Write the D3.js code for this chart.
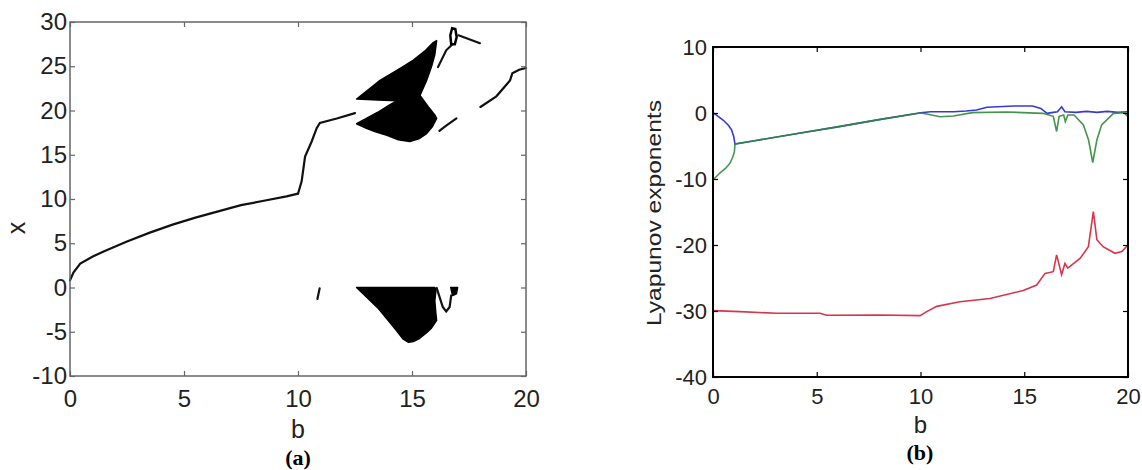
<!DOCTYPE html>
<html>
<head>
<meta charset="utf-8">
<script src="https://cdn.jsdelivr.net/npm/d3@7"></script>
<style>
  body { margin: 0; background: #fff; }
  svg { display: block; }
  .tick text { font-family: "Liberation Sans", Arial, sans-serif; fill: #222; }
</style>
</head>
<body>
<div id="chart"></div>
<script>
// ---- data ----
var bTicks = [0, 5, 10, 15, 20];
var xTicks = [-10, -5, 0, 5, 10, 15, 20, 25, 30];
var lyapTicks = [-40, -30, -20, -10, 0, 10];

// bifurcation diagram (a): [b, x]
var branchLow = [[0,0.8],[0.15,1.7],[0.45,2.7],[1,3.5],[1.5,4.1],[2.5,5.2],[3.5,6.2],[4.5,7.1],[5.5,7.9],[6.5,8.6],[7.5,9.3],[8.5,9.8],[9.5,10.3],[10,10.6]];
var branchJump = [[10,10.6],[10.16,12.0],[10.31,14.8],[10.6,16.5],[10.82,18.0],[10.96,18.6],[11.7,19.1],[12.5,19.7]];
var branchMid = [[16.2,17.7],[16.5,18.3],[16.95,19.1]];
var branchHigh = [[18.0,20.4],[18.7,21.6],[19.3,23.4],[19.4,24.2],[19.7,24.6],[20,24.8]];
var branchThin = [[16.14,24.9],[16.5,26.8],[16.74,27.4]];
var branchTail = [[17.04,28.5],[17.98,27.6]];
var loopTop = [[16.72,27.5],[16.68,28.5],[16.76,29.3],[16.9,29.2],[16.96,28.3],[16.88,27.5]];
var stubLow = [[10.95,-0.1],[10.85,-1.3]];
var hookLow = [[16.08,-0.05],[16.2,-1.0],[16.35,-2.2],[16.5,-2.7],[16.65,-2.2],[16.72,-0.9]];
var chaosUpper = [[12.57,21.3],[13.6,23.4],[14.5,24.8],[15.06,25.7],[15.6,26.8],[15.9,27.6],[16.08,27.9],
  [16.0,26.3],[15.86,25.0],[15.64,23.4],[15.35,21.7],[15.72,20.4],[16.0,19.5],[16.08,19.1],
  [15.9,18.2],[15.64,17.4],[15.3,16.8],[14.9,16.5],[14.4,16.7],[13.9,17.2],[13.4,17.6],[13.0,18.0],[12.57,18.5],
  [13.0,19.1],[13.5,19.8],[14.0,20.6],[14.35,21.1],[13.5,21.2]];
var chaosLower = [[12.57,0],[16.0,0],[16.05,-0.3],[16.0,-1.5],[16.05,-3.0],[16.08,-3.7],[15.85,-4.6],[15.64,-5.1],
  [15.3,-5.8],[15.06,-6.1],[14.85,-6.2],[14.6,-5.8],[14.3,-4.8],[13.5,-2.3]];
var blobLow = [[16.7,0],[17.0,0],[16.95,-0.7],[16.78,-0.9]];

// Lyapunov exponents (b): [b, value]
var lambda1 = [[0,0.05],[0.2,-0.4],[0.5,-1.1],[0.75,-1.9],[0.9,-2.6],[1.0,-3.6],[1.06,-4.7],[2,-4.2],[4,-3.15],[6,-2.1],[8,-1.0],[10,0.05],
  [10.5,0.2],[11.6,0.2],[12.2,0.3],[12.7,0.45],[13.2,0.86],[14.5,1.06],[15.4,1.06],[15.8,0.7],[16.1,-0.05],[16.4,0.1],[16.6,0.2],[16.8,0.95],
  [16.96,0.2],[17.5,0.1],[18,0.25],[18.5,0.1],[19,0.25],[19.5,0.1],[20,0.2]];
var lambda2 = [[0,-10.15],[0.33,-9.1],[0.6,-8.4],[0.82,-7.6],[0.95,-6.7],[1.03,-5.9],[1.06,-4.7],[2,-4.2],[4,-3.15],[6,-2.1],[8,-1.0],[10,0],
  [10.3,-0.15],[10.94,-0.56],[11.58,-0.45],[12.5,0.05],[14.15,0.15],[15.9,-0.05],[16.4,-0.5],[16.56,-2.8],[16.68,-0.5],[16.9,-0.3],[16.98,-1.3],
  [17.1,-0.3],[17.4,-0.3],[17.85,-1.8],[18.1,-4.1],[18.3,-7.5],[18.5,-4.1],[18.73,-1.8],[19.3,-0.05],[19.8,0.05],[20,-0.56]];
var lambda3 = [[0,-29.95],[1.3,-30.1],[3.07,-30.35],[5.16,-30.35],[5.48,-30.65],[8,-30.6],[9.98,-30.7],[10.3,-30.1],[10.78,-29.3],[11.9,-28.6],
  [13.35,-28.1],[14.95,-26.9],[15.6,-26.06],[16.0,-24.3],[16.4,-24.04],[16.56,-21.5],[16.8,-24.5],[16.96,-22.8],[17.1,-23.5],[17.7,-22.0],
  [18.09,-20.26],[18.33,-14.95],[18.5,-19.2],[18.8,-20.26],[19.37,-21.26],[19.7,-21.0],[20,-20.0]];

var width = 1142, height = 470;
var svg = d3.select("#chart").append("svg").attr("width", width).attr("height", height);

var plain = function(d) { return String(d); };   // hyphen minus, like the original

function frame(g, x, y, opt) {
  var w = x.range()[1] - x.range()[0], h = y.range()[0] - y.range()[1];
  var t = opt.tick;
  var bottom = g.append("g").attr("transform", "translate(0," + h + ")")
    .call(d3.axisBottom(x).tickValues(bTicks).tickFormat(plain).tickSizeInner(-t).tickSizeOuter(0).tickPadding(opt.padX));
  var left = g.append("g")
    .call(d3.axisLeft(y).tickValues(opt.yTicks).tickFormat(plain).tickSizeInner(-t).tickSizeOuter(0).tickPadding(opt.padY));
  var top = g.append("g")
    .call(d3.axisTop(x).tickValues(bTicks).tickSizeInner(-t).tickSizeOuter(0).tickFormat(""));
  var right = g.append("g").attr("transform", "translate(" + w + ",0)")
    .call(d3.axisRight(y).tickValues(opt.yTicks).tickSizeInner(-t).tickSizeOuter(0).tickFormat(""));
  [bottom, left, top, right].forEach(function(a) {
    a.select(".domain").remove();
    a.selectAll("line").attr("stroke", opt.color).attr("stroke-width", 1.2);
    a.selectAll("text").style("font-size", opt.font + "px");
  });
  g.append("rect").attr("width", w).attr("height", h)
    .attr("fill", "none").attr("stroke", opt.color).attr("stroke-width", opt.sw);
}

// ---- panel (a) ----
var xa = d3.scaleLinear().domain([0, 20]).range([0, 456]);
var ya = d3.scaleLinear().domain([-10, 30]).range([354, 0]);
var ga = svg.append("g").attr("transform", "translate(70,22)");
var lineA = d3.line().x(function(d) { return xa(d[0]); }).y(function(d) { return ya(d[1]); });

[chaosUpper, chaosLower, blobLow].forEach(function(p) {
  ga.append("path").attr("d", lineA(p) + "Z").attr("fill", "#000").attr("stroke", "#000").attr("stroke-width", 1.5).attr("stroke-linejoin", "round");
});
[branchLow, branchJump, branchMid, branchHigh, branchThin, branchTail, stubLow, hookLow].forEach(function(p) {
  ga.append("path").attr("d", lineA(p)).attr("fill", "none").attr("stroke", "#111").attr("stroke-width", 2.2).attr("stroke-linecap", "round");
});
ga.append("path").attr("d", lineA(loopTop) + "Z").attr("fill", "none").attr("stroke", "#000").attr("stroke-width", 2.5);

frame(ga, xa, ya, { yTicks: xTicks, tick: 5, padX: 14, padY: 3, font: 24, color: "#666", sw: 1.5 });

ga.append("text").attr("transform", "translate(-45,206) rotate(-90)").attr("text-anchor", "middle")
  .style("font-family", "Liberation Sans, Arial, sans-serif").style("font-size", "25px").attr("fill", "#222").text("x");
ga.append("text").attr("x", 228).attr("y", 416).attr("text-anchor", "middle")
  .style("font-family", "Liberation Sans, Arial, sans-serif").style("font-size", "25px").attr("fill", "#222").text("b");
svg.append("text").attr("x", 298).attr("y", 465).attr("text-anchor", "middle")
  .style("font-family", "Liberation Serif, Times New Roman, serif").style("font-weight", "bold").style("font-size", "22px").text("(a)");

// ---- panel (b) ----
var xb = d3.scaleLinear().domain([0, 20]).range([0, 415]);
var yb = d3.scaleLinear().domain([-40, 10]).range([330, 0]);
var gb = svg.append("g").attr("transform", "translate(713,47)");
var lineB = d3.line().x(function(d) { return xb(d[0]); }).y(function(d) { return yb(d[1]); });

gb.append("path").attr("d", lineB(lambda3)).attr("fill", "none").attr("stroke", "#d8354a").attr("stroke-width", 1.6);
gb.append("path").attr("d", lineB(lambda1)).attr("fill", "none").attr("stroke", "#3838d8").attr("stroke-width", 1.6);
gb.append("path").attr("d", lineB(lambda2)).attr("fill", "none").attr("stroke", "#2f8a3a").attr("stroke-width", 1.6).attr("stroke-opacity", 0.9);

frame(gb, xb, yb, { yTicks: lyapTicks, tick: 5, padX: 11, padY: 6, font: 22, color: "#000", sw: 2 });

gb.append("text").attr("transform", "translate(-52,166) rotate(-90)").attr("text-anchor", "middle")
  .attr("textLength", 226).attr("lengthAdjust", "spacingAndGlyphs")
  .style("font-family", "Liberation Sans, Arial, sans-serif").style("font-size", "20px").attr("fill", "#222").text("Lyapunov exponents");
gb.append("text").attr("x", 207.5).attr("y", 386).attr("text-anchor", "middle")
  .style("font-family", "Liberation Sans, Arial, sans-serif").style("font-size", "24px").attr("fill", "#222").text("b");
svg.append("text").attr("x", 920).attr("y", 460).attr("text-anchor", "middle")
  .style("font-family", "Liberation Serif, Times New Roman, serif").style("font-weight", "bold").style("font-size", "22px").text("(b)");
</script>
</body>
</html>
